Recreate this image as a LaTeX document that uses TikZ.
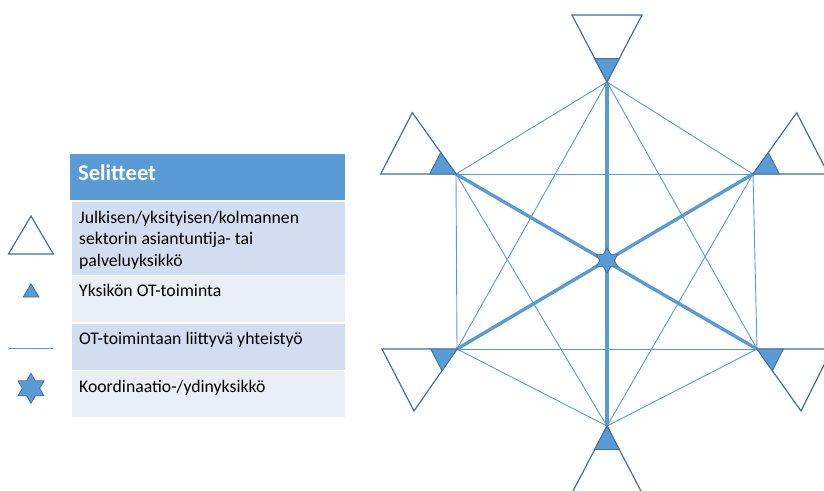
\documentclass[tikz,border=0pt]{standalone}
\usepackage{fontspec}
\setmainfont{Carlito}
\usetikzlibrary{shapes.geometric}
\definecolor{accent}{HTML}{5B9BD5}
\definecolor{edgeblue}{HTML}{41719C}
\definecolor{rowdark}{HTML}{D2DEEF}
\definecolor{rowlight}{HTML}{EAEFF7}
\newcommand\unitmark[5]{%
  \draw[bigtri] (#1) -- ++(#2,#3) -- ++({#4-(#2)},{#5-(#3)}) -- cycle;
  \draw[smalltri] (#1) -- ++({0.35*(#2)},{0.35*(#3)}) -- ++({0.35*(#4-(#2))},{0.35*(#5-(#3))}) -- cycle;}
\begin{document}
\begin{tikzpicture}[x=1pt,y=-1pt,
  thinlink/.style={draw=accent, line width=0.9pt},
  thicklink/.style={draw=accent, line width=3.4pt},
  bigtri/.style={draw=edgeblue, line width=1.2pt, fill=white, line join=miter},
  smalltri/.style={draw=edgeblue, fill=accent, line width=0.9pt, line join=miter},
  coordstar/.style={star, star points=6, star point ratio=1.73, draw=edgeblue, fill=accent, line width=0.8pt, inner sep=0pt},
  rowbox/.style={draw=white, line width=1.5pt, minimum width=275pt, anchor=north west, inner sep=0pt},
  legtext/.style={anchor=base west, font=\fontsize{17.7}{21.5}\selectfont, inner sep=0pt, align=left}]
\useasboundingbox (0,0) rectangle (824,490);
\clip (0,0) rectangle (824,490);

% ---------- network ----------
\coordinate (T) at (607,82);
\coordinate (UL) at (456,174);
\coordinate (UR) at (753,174);
\coordinate (LL) at (457,349);
\coordinate (LR) at (757,349);
\coordinate (B) at (607,426);

\foreach \a/\b in {T/UL,T/UR,T/LL,T/LR,UL/UR,UL/LL,UL/B,UR/LR,UR/B,LL/LR,LL/B,LR/B}
  \draw[thinlink] (\a) -- (\b);
\foreach \a/\b in {T/B,UL/LR,UR/LL}
  \draw[thicklink] (\a) -- (\b);

\unitmark{T}{-35}{-67}{35}{-67}
\unitmark{B}{-35}{67}{35}{67}
\unitmark{UL}{-75.3}{0}{-43.7}{-61.3}
\unitmark{UR}{75.3}{0}{43.7}{-61.3}
\unitmark{LL}{-75}{0}{-43}{62}
\unitmark{LR}{75}{0}{44}{62}

\node[coordstar, minimum size=25pt] (core) at (607,260.5) {};

% ---------- legend ----------
\node[fill=accent, minimum width=275pt, minimum height=46pt, anchor=north west, inner sep=0pt] (hdr) at (70,154) {};
\node[anchor=base west, inner sep=0pt, text=white, font=\bfseries\fontsize{22.5}{26}\selectfont] (hdrtext) at (78,180) {Selitteet};

\node[rowbox, fill=rowdark, minimum height=74pt] (row1) at (70,200.5) {};
\node[rowbox, fill=rowlight, minimum height=47.5pt] (row2) at (70,274.5) {};
\node[rowbox, fill=rowdark, minimum height=47.5pt] (row3) at (70,322) {};
\node[rowbox, fill=rowlight, minimum height=47.5pt] (row4) at (70,369.5) {};

\node[legtext] (t1) at (79,266) {Julkisen/yksityisen/kolmannen\\sektorin asiantuntija- tai\\palveluyksikkö};
\node[legtext] (t2) at (79,296) {Yksikön OT-toiminta};
\node[legtext] (t3) at (79,344) {OT-toimintaan liittyvä yhteistyö};
\node[legtext] (t4) at (79,392) {Koordinaatio-/ydinyksikkö};

\draw[bigtri] (8.5,254) -- (53.3,254) -- (31,216) -- cycle;
\draw[smalltri] (23.3,297) -- (39,297) -- (31,284) -- cycle;
\coordinate (la) at (9,348.3);
\coordinate (lb) at (53.3,348.3);
\draw[thinlink] (la) -- (lb);
\node[coordstar, minimum size=30pt] (legstar) at (31,388.3) {};
\end{tikzpicture}
\end{document}
